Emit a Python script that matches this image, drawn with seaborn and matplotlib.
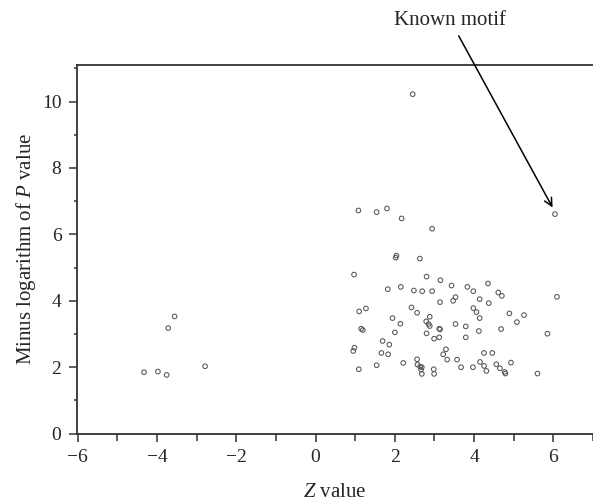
import matplotlib
matplotlib.use('Agg')
import matplotlib.pyplot as plt
from matplotlib.ticker import MultipleLocator
import seaborn as sns
import pandas as pd

#=====DATA=====
z_vals = [2.45, 1.08, 1.54, 1.80, 2.17, 2.94, 6.04, 2.04, 2.02, 2.63,
          0.97, 2.80, 3.15, 3.43, 3.83, 3.98, 4.35, 4.61, 4.70, 1.82,
          2.15, 2.48, 2.69, 2.94, 6.09, 3.53, 3.47, 3.14, 4.14, 4.37,
          1.10, 1.27, 2.42, 2.56, 3.98, 4.06, 4.14, 4.89, 5.26, 5.08,
          1.94, 2.14, 2.88, 2.79, 2.85, 2.88, 2.80, 3.12, 3.14, 3.53,
          3.79, 4.12, 4.68, 5.85, 1.15, 1.19, 2.00, 1.69, 1.86, 2.99,
          3.12, 3.79, 1.66, 1.83, 0.98, 0.95, 3.29, 3.22, 3.32, 3.57,
          4.25, 4.46, 2.56, 2.21, 2.57, 2.64, 2.68, 2.66, 2.68, 2.98,
          2.99, 1.54, 1.09, 3.67, 3.97, 4.15, 4.25, 4.31, 4.56, 4.65,
          4.77, 4.79, 4.93, 5.60,
          -4.33, -3.98, -3.76, -2.79, -3.72, -3.56]
neg_log_p = [10.22, 6.72, 6.67, 6.78, 6.48, 6.17, 6.61, 5.36, 5.30, 5.27,
             4.79, 4.73, 4.62, 4.46, 4.42, 4.29, 4.52, 4.25, 4.15, 4.35,
             4.42, 4.31, 4.29, 4.29, 4.12, 4.11, 4.00, 3.96, 4.05, 3.93,
             3.68, 3.77, 3.80, 3.64, 3.78, 3.66, 3.48, 3.62, 3.57, 3.36,
             3.48, 3.31, 3.52, 3.38, 3.30, 3.24, 3.02, 3.16, 3.14, 3.30,
             3.23, 3.09, 3.15, 3.01, 3.16, 3.12, 3.05, 2.79, 2.68, 2.86,
             2.90, 2.90, 2.43, 2.39, 2.59, 2.49, 2.54, 2.39, 2.23, 2.23,
             2.43, 2.43, 2.24, 2.13, 2.08, 2.02, 2.00, 1.93, 1.80, 1.94,
             1.80, 2.06, 1.94, 2.00, 2.00, 2.16, 2.04, 1.89, 2.09, 1.97,
             1.86, 1.81, 2.14, 1.81,
             1.85, 1.87, 1.77, 2.03, 3.18, 3.53]
known_motif = (6.04, 6.61)

df = pd.DataFrame({"z": z_vals, "p": neg_log_p})

#=====STYLE=====
sns.set_style("ticks")
plt.rcParams['font.family'] = ['Liberation Serif', 'DejaVu Serif']
plt.rcParams['mathtext.fontset'] = 'custom'
plt.rcParams['mathtext.rm'] = 'Liberation Serif'
plt.rcParams['mathtext.it'] = 'Liberation Serif:italic'

#=====PLOT=====
fig = plt.figure(figsize=(5.93, 5.04), dpi=100)
ax = fig.add_axes([0.1293, 0.1395, 0.8707, 0.7316])
sns.scatterplot(data=df, x="z", y="p", ax=ax, marker="o", s=11,
                facecolor="none", edgecolor="#555555", linewidth=0.75)

ax.set_xlim(-6.03, 7)
ax.set_ylim(0, 11.1)
ax.xaxis.set_major_locator(MultipleLocator(2))
ax.xaxis.set_minor_locator(MultipleLocator(1))
ax.yaxis.set_major_locator(MultipleLocator(2))
ax.yaxis.set_minor_locator(MultipleLocator(1))
ax.tick_params(axis='both', which='major', direction='out', length=6,
               width=1.1, color='#333333', labelsize=14, pad=5)
ax.tick_params(axis='x', which='minor', direction='out', length=5,
               width=1.1, color='#333333')
ax.tick_params(axis='y', which='minor', direction='out', length=2.5,
               width=1.1, color='#333333')
ax.set_xticklabels([f"{int(t)}".replace('-', '\u2212') for t in ax.get_xticks()])

for side in ['left', 'bottom', 'top']:
    ax.spines[side].set_linewidth(1.3)
    ax.spines[side].set_color('#333333')
ax.spines['right'].set_visible(False)

ax.set_xlabel(r"$Z$ value", fontsize=15, labelpad=12)
ax.set_ylabel(r"Minus logarithm of $P$ value", fontsize=15)
ax.yaxis.set_label_coords(-0.075, 0.5)

ax.annotate("Known motif", xy=(known_motif[0] - 0.06, known_motif[1] + 0.2),
            xytext=(3.4, 12.15), textcoords='data', fontsize=15,
            ha='center', va='bottom', annotation_clip=False,
            arrowprops=dict(arrowstyle='->', color='black', lw=1.1,
                            shrinkA=2, shrinkB=0, mutation_scale=14))

plt.savefig("out.png", dpi=100)
plt.close()
